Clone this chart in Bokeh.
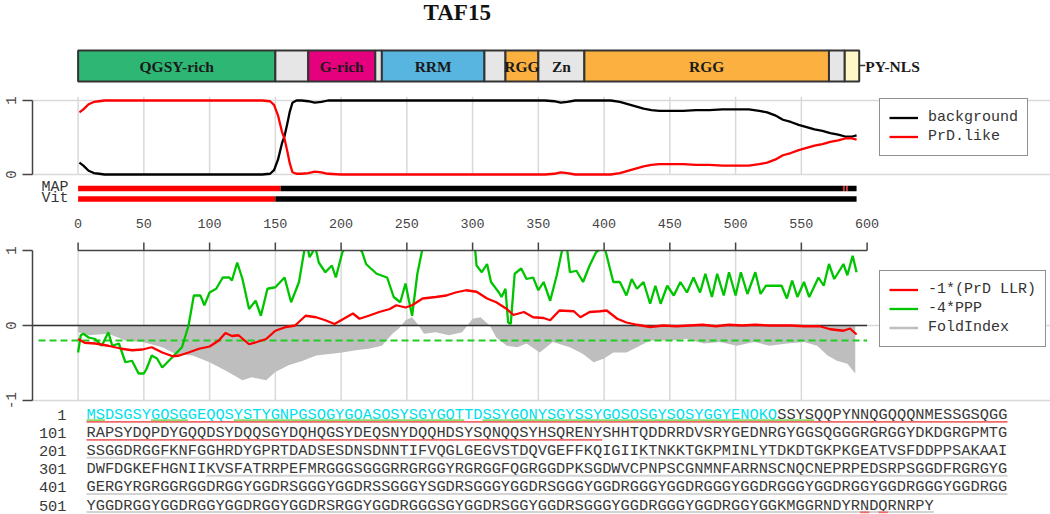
import math
from bokeh.plotting import figure
from bokeh.models import Range1d, ColumnDataSource, Legend, LegendItem
from bokeh.core.properties import value
from bokeh.embed import file_html
from bokeh.resources import INLINE

NaN = float("nan")

# ---------------- data ----------------
protein = "TAF15"
seq_len = 592

dom_label = ["QGSY-rich", "", "G-rich", "", "RRM", "", "RGG", "Zn", "RGG", "", "PY-NLS"]
dom_start = [0, 150, 175, 226, 231, 309, 325, 350, 385, 571, 583]
dom_end = [150, 175, 226, 231, 309, 325, 350, 385, 571, 583, 594]
dom_color = ["#2db674", "#e6e6e6", "#e5007d", "#e6e6e6", "#57b5e0", "#e6e6e6",
             "#fbb040", "#e6e6e6", "#fbb040", "#e6e6e6", "#fff8c6"]

tick_vals = [0, 50, 100, 150, 200, 250, 300, 350, 400, 450, 500, 550, 600]
grid_vals = [0, 50, 100, 150, 200, 250, 300, 350, 400, 450, 500, 550]

top_pos = [1, 4, 8, 12, 16, 20, 40, 60, 80, 100, 120, 140, 146, 149, 152, 155, 157, 159,
           161, 163, 166, 170, 175, 180, 185, 190, 200, 220, 240, 260, 280, 300, 320, 340,
           355, 362, 367, 372, 378, 385, 395, 405, 412, 418, 424, 430, 436, 442, 450, 460,
           470, 480, 490, 500, 510, 518, 524, 530, 536, 542, 548, 554, 560, 566, 572, 578,
           584, 588, 592]
background = [0.16, 0.12, 0.05, 0.02, 0.01, 0.0, 0.0, 0.0, 0.0, 0.0, 0.0, 0.0, 0.01, 0.06,
              0.2, 0.42, 0.52, 0.68, 0.85, 0.97, 1.0, 1.0, 0.99, 0.97, 0.98, 1.0, 1.0, 1.0,
              1.0, 1.0, 1.0, 1.0, 1.0, 1.0, 1.0, 0.99, 0.97, 0.98, 1.0, 1.0, 1.0, 1.0, 0.98,
              0.95, 0.92, 0.89, 0.87, 0.86, 0.86, 0.86, 0.87, 0.87, 0.88, 0.88, 0.88, 0.86,
              0.84, 0.8, 0.74, 0.71, 0.67, 0.64, 0.61, 0.59, 0.56, 0.54, 0.51, 0.51, 0.53]
prd_like = [0.84, 0.88, 0.95, 0.98, 0.99, 1.0, 1.0, 1.0, 1.0, 1.0, 1.0, 1.0, 0.99, 0.94,
            0.8, 0.58, 0.48, 0.32, 0.15, 0.03, 0.01, 0.01, 0.02, 0.04, 0.03, 0.01, 0.0, 0.0,
            0.0, 0.0, 0.0, 0.0, 0.0, 0.0, 0.0, 0.01, 0.03, 0.02, 0.0, 0.0, 0.0, 0.0, 0.02,
            0.05, 0.08, 0.11, 0.13, 0.14, 0.14, 0.14, 0.13, 0.13, 0.12, 0.12, 0.12, 0.14,
            0.16, 0.2, 0.26, 0.29, 0.33, 0.36, 0.39, 0.41, 0.44, 0.46, 0.49, 0.49, 0.47]

map_start = [0, 154, 581.8, 582.8, 584.3, 585.3]
map_end = [154, 581.8, 582.8, 584.3, 585.3, 592]
map_state = ["PrD", "bg", "PrD", "bg", "PrD", "bg"]
vit_start = [0, 150]
vit_end = [150, 592]
vit_state = ["PrD", "bg"]

llr_pos = [0, 5, 13, 23, 33, 41, 49, 56, 64, 72, 77, 84, 92, 100, 107, 112, 117, 122, 130,
           136, 143, 150, 158, 165, 173, 181, 188, 195, 201, 209, 214, 221, 229, 237, 242,
           249, 254, 262, 272, 280, 287, 295, 303, 311, 318, 326, 331, 339, 346, 354, 359,
           366, 377, 382, 389, 397, 402, 410, 417, 425, 435, 445, 455, 465, 475, 485, 495,
           505, 515, 525, 535, 542, 552, 564, 572, 582, 587, 592]
llr_neg = [-0.18, -0.23, -0.24, -0.27, -0.31, -0.33, -0.32, -0.29, -0.36, -0.41, -0.40,
           -0.36, -0.31, -0.28, -0.20, -0.10, -0.14, -0.13, -0.25, -0.22, -0.18, -0.07,
           -0.02, 0.0, 0.13, 0.11, 0.07, 0.02, 0.08, 0.16, 0.09, 0.13, 0.18, 0.22, 0.27,
           0.24, 0.27, 0.36, 0.38, 0.40, 0.44, 0.47, 0.45, 0.36, 0.31, 0.22, 0.14, 0.18,
           0.11, 0.10, 0.07, 0.20, 0.19, 0.11, 0.18, 0.19, 0.20, 0.09, 0.04, 0.01, -0.02,
           0.0, -0.01, 0.0, 0.01, -0.01, 0.01, 0.0, 0.01, 0.0, 0.0, 0.0, -0.01, -0.01,
           -0.05, -0.07, -0.04, -0.12]

ppp_pos = [0, 2, 4, 8, 13, 18, 23, 26, 31, 36, 41, 46, 50, 52, 56, 60, 64, 69, 74, 79, 84,
           88, 93, 96, 100, 105, 110, 115, 117, 121, 125, 130, 135, 139, 144, 150, 157, 162,
           168, 172, 173.5, 175, 176, 179, 180, 181, 183, 188, 193, 196, 201, 202, 208, 215,
           216, 219, 222, 227, 235, 240, 245, 249, 251.6, 254, 258, 261.6, 280, 302, 303,
           307, 311, 314, 320, 322, 325, 327, 329, 332, 337, 341, 346, 350, 354, 359, 364,
           368, 370, 372, 374, 379, 384, 389, 394, 396, 398, 401, 402, 407, 412, 417, 421,
           425, 430, 435, 439, 443, 448, 453, 458, 463, 468, 473, 477, 482, 486, 491, 495,
           500, 504, 509, 515, 519, 523, 535, 539, 543, 547, 552, 556, 559, 563, 567, 571,
           575, 580, 582, 585, 589, 592]
ppp_neg4 = [-0.36, -0.13, -0.11, -0.16, -0.18, -0.27, -0.09, -0.27, -0.24, -0.49, -0.47,
            -0.64, -0.64, -0.58, -0.40, -0.44, -0.56, -0.47, -0.38, -0.29, 0.0, 0.40, 0.40,
            0.27, 0.44, 0.49, 0.64, 0.64, 0.60, 0.84, 0.62, 0.22, 0.33, 0.13, 0.49, 0.51,
            0.64, 0.31, 0.58, 1.0, NaN, 1.0, 0.91, 1.0, NaN, 1.0, 0.84, 0.71, 0.80, 0.64,
            0.98, 1.0, NaN, 1.0, 0.98, 0.82, 0.77, 0.69, 0.64, 0.38, 0.31, 0.56, 0.33, 0.13,
            0.69, 1.0, NaN, 1.0, 0.80, 0.71, 0.82, 0.58, 0.44, 0.38, 0.49, 0.04, 0.02, 0.69,
            0.76, 0.62, 0.64, 0.47, 0.58, 0.33, 0.67, 1.0, NaN, 1.0, 0.71, 0.73, 0.58, 0.80,
            0.98, 1.0, NaN, 1.0, 0.93, 0.58, 0.58, 0.40, 0.62, 0.49, 0.58, 0.29, 0.53, 0.29,
            0.53, 0.40, 0.58, 0.44, 0.64, 0.44, 0.69, 0.38, 0.69, 0.40, 0.71, 0.40, 0.71,
            0.42, 0.71, 0.42, 0.53, 0.53, 0.36, 0.60, 0.38, 0.58, 0.38, 0.49, 0.64, 0.53,
            0.82, 0.62, 0.76, 0.82, 0.67, 0.93, 0.71]

fold_pos = [0, 8, 23, 36, 49, 64, 74, 87, 100, 112, 125, 132, 143, 150, 160, 171, 181, 191,
            201, 211, 221, 231, 239, 244, 249, 254, 259, 263, 272, 282, 292, 300, 306, 313,
            318, 326, 334, 341, 351, 361, 374, 384, 392, 400, 407, 417, 425, 435, 450, 463,
            476, 488, 501, 514, 526, 539, 552, 562, 570, 577, 585, 591]
fold_index = [-0.09, -0.13, -0.11, -0.20, -0.22, -0.29, -0.38, -0.40, -0.49, -0.60, -0.73,
              -0.69, -0.73, -0.62, -0.53, -0.47, -0.40, -0.38, -0.36, -0.33, -0.31, -0.27,
              -0.11, -0.04, 0.07, 0.11, 0.0, -0.11, -0.09, -0.13, -0.09, 0.09, 0.11, 0.0,
              -0.16, -0.27, -0.29, -0.24, -0.36, -0.22, -0.29, -0.38, -0.49, -0.44, -0.36,
              -0.36, -0.29, -0.20, -0.20, -0.18, -0.24, -0.22, -0.27, -0.22, -0.27, -0.24,
              -0.22, -0.27, -0.40, -0.47, -0.51, -0.64]
ppp_threshold = -0.2

seq_rows = [
    "MSDSGSYGQSGGEQQSYSTYGNPGSQGYGQASQSYSGYGQTTDSSYGQNYSGYSSYGQSQSGYSQSYGGYENQKQSSYSQQPYNNQGQQQNMESSGSQGG",
    "RAPSYDQPDYGQQDSYDQQSGYDQHQGSYDEQSNYDQQHDSYSQNQQSYHSQRENYSHHTQDDRRDVSRYGEDNRGYGGSQGGGRGRGGYDKDGRGPMTG",
    "SSGGDRGGFKNFGGHRDYGPRTDADSESDNSDNNTIFVQGLGEGVSTDQVGEFFKQIGIIKTNKKTGKPMINLYTDKDTGKPKGEATVSFDDPPSAKAAI",
    "DWFDGKEFHGNIIKVSFATRRPEFMRGGGSGGGRRGRGGYRGRGGFQGRGGDPKSGDWVCPNPSCGNMNFARRNSCNQCNEPRPEDSRPSGGDFRGRGYG",
    "GERGYRGRGGRGGDRGGYGGDRSGGGYGGDRSSGGGYSGDRSGGGYGGDRSGGGYGGDRGGGYGGDRGGGYGGDRGGGYGGDRGGYGGDRGGGYGGDRGG",
    "YGGDRGGYGGDRGGYGGDRGGYGGDRSRGGYGGDRGGGSGYGGDRSGGYGGDRSGGGYGGDRGGGYGGDRGGYGGKMGGRNDYRNDQRNRPY",
]
row_start = [1, 101, 201, 301, 401, 501]
core_region = [(1, 75)]
prd_underline = [(1, 156), (585, 585), (587, 587)]
core_underline = [(1, 2), (8, 11), (17, 41), (44, 79)]
disorder_underline = [(201, 248), (261, 297), (314, 400), (401, 500), (501, 592)]

# ---------------- layout constants ----------------
W, H = 1050, 514
X0, XS = 77.6, 1.315
TOP1, TOP0 = 100.0, 174.0
LOW0, LOWU = 325.0, 75.0
SEQ_X, CW, FS_SEQ = 86.0, 9.21, "15.35px"
ROW_Y0, ROW_DY = 414.5, 18.1
MONO = value("Liberation Mono")
SERIF = value("Liberation Serif")

p = figure(width=W, height=H, output_backend="svg", toolbar_location=None,
           x_range=Range1d(-X0 / XS, (W - X0) / XS), y_range=Range1d(H, 0),
           x_axis_location=None, y_axis_location=None, min_border=0,
           outline_line_color=None, background_fill_color="white")
p.grid.visible = False
p.extra_x_ranges = {"px": Range1d(0, W)}
ts = TOP0 - TOP1
p.extra_y_ranges = {"top": Range1d((TOP0 - H) / ts, TOP0 / ts),
                    "low": Range1d((LOW0 - H) / LOWU, LOW0 / LOWU)}

GRID = "#d9d9d9"
AX = "#444444"

# ---- title
p.text(x=[W * 0.435], y=[12], text=[protein], x_range_name="px", text_font=SERIF,
       text_font_style="bold", text_font_size="23px", text_align="center",
       text_baseline="middle", text_color="#111111")

# ---- domain bar
p.quad(left=dom_start, right=dom_end, top=[50] * len(dom_start), bottom=[81] * len(dom_start),
       fill_color=dom_color, line_color="#333333", line_width=2)
in_lab = [(s + e) / 2 for s, e, l in zip(dom_start, dom_end, dom_label) if l and l != "PY-NLS"]
in_txt = [l for l in dom_label if l and l != "PY-NLS"]
p.text(x=in_lab, y=[65.5] * len(in_lab), text=in_txt, text_font=SERIF, text_font_style="bold",
       text_font_size="15.5px", text_align="center", text_baseline="middle",
       text_color="#1a1a1a")
nls_i = dom_label.index("PY-NLS")
p.segment(x0=[dom_end[nls_i]], x1=[dom_end[nls_i] + 6 / XS], y0=[65], y1=[65],
          line_color="#333333", line_width=1.5)
p.text(x=[dom_end[nls_i] + 6 / XS], y=[65.5], text=["PY-NLS"], text_font=SERIF,
       text_font_style="bold", text_font_size="15.5px", text_align="left",
       text_baseline="middle", text_color="#1a1a1a")

# ---- top panel grid & axis
p.segment(x0=grid_vals, x1=grid_vals, y0=[0] * len(grid_vals), y1=[1.05] * len(grid_vals),
          y_range_name="top", line_color=GRID, line_width=1.5)
p.segment(x0=[32, 32], x1=[W, W], y0=[0, 1], y1=[0, 1], x_range_name="px",
          y_range_name="top", line_color=GRID, line_width=1.5)
p.segment(x0=[32], x1=[32], y0=[0], y1=[1], x_range_name="px", y_range_name="top",
          line_color=AX, line_width=1.5)
p.segment(x0=[22, 22], x1=[32, 32], y0=[0, 1], y1=[0, 1], x_range_name="px",
          y_range_name="top", line_color=AX, line_width=1.5)
p.text(x=[10, 10], y=[0, 1], text=["0", "1"], x_range_name="px", y_range_name="top",
       angle=math.pi / 2, text_font=MONO, text_font_size="14px", text_align="center",
       text_baseline="middle", text_color=AX)

r_bg = p.line(top_pos, background, y_range_name="top", line_color="black", line_width=2.3)
r_prd = p.line(top_pos, prd_like, y_range_name="top", line_color="#ff0000", line_width=2.3)

# ---- MAP / Vit state bars
state_col = {"PrD": "#ff0000", "bg": "#000000"}
p.segment(x0=map_start, x1=map_end, y0=[188] * len(map_start), y1=[188] * len(map_start),
          line_color=[state_col[s] for s in map_state], line_width=5.5)
p.segment(x0=vit_start, x1=vit_end, y0=[198.5] * len(vit_start), y1=[198.5] * len(vit_start),
          line_color=[state_col[s] for s in vit_state], line_width=5.5)
p.text(x=[68, 68], y=[186.5, 197.5], text=["MAP", "Vit"], x_range_name="px",
       text_font=MONO, text_font_size="15px", text_align="right", text_baseline="middle",
       text_color="#333333")

# ---- position axis
p.text(x=tick_vals, y=[223] * len(tick_vals), text=[str(t) for t in tick_vals],
       text_font=MONO, text_font_size="13.4px", text_align="center", text_baseline="middle",
       text_color=AX)

# ---- lower panel grid
p.segment(x0=grid_vals, x1=grid_vals, y0=[-1] * len(grid_vals), y1=[1] * len(grid_vals),
          y_range_name="low", line_color=GRID, line_width=1.5)
p.segment(x0=[32, 32], x1=[W, W], y0=[-1, 0], y1=[-1, 0], x_range_name="px",
          y_range_name="low", line_color=GRID, line_width=1.5)

# FoldIndex area
r_fold = p.varea(x=fold_pos, y1=[0] * len(fold_pos), y2=fold_index, y_range_name="low",
                 fill_color="#bebebe")

# zero line & threshold
x_left = (32 - X0) / XS
p.segment(x0=[x_left], x1=[600], y0=[0], y1=[0], y_range_name="low", line_color="#333333",
          line_width=1.5)
p.segment(x0=[(38 - X0) / XS], x1=[600], y0=[ppp_threshold], y1=[ppp_threshold],
          y_range_name="low", line_color="#22cc22", line_width=2, line_dash="7 4")

r_ppp = p.line(ppp_pos, ppp_neg4, y_range_name="low", line_color="#00c400", line_width=2.3)
r_llr = p.line(llr_pos, llr_neg, y_range_name="low", line_color="#ff0000", line_width=2.3)
r_fold_leg = p.line([NaN], [NaN], y_range_name="low", line_color="#bebebe", line_width=2.5)

# lower-panel axes
p.segment(x0=[0], x1=[600], y0=[1], y1=[1], y_range_name="low", line_color=AX, line_width=1.5)
p.segment(x0=tick_vals, x1=tick_vals, y0=[1] * len(tick_vals),
          y1=[1 + 8 / LOWU] * len(tick_vals), y_range_name="low", line_color=AX, line_width=1.5)
p.segment(x0=[32], x1=[32], y0=[-1], y1=[1], x_range_name="px", y_range_name="low",
          line_color=AX, line_width=1.5)
p.segment(x0=[22, 22, 22], x1=[32, 32, 32], y0=[-1, 0, 1], y1=[-1, 0, 1], x_range_name="px",
          y_range_name="low", line_color=AX, line_width=1.5)
p.text(x=[10, 10, 10], y=[-1, 0, 1], text=["-1", "0", "1"], x_range_name="px",
       y_range_name="low", angle=math.pi / 2, text_font=MONO, text_font_size="14px",
       text_align="center", text_baseline="middle", text_color=AX)

# ---- legends
leg_kw = dict(border_line_color="#222222", border_line_width=1.5, background_fill_alpha=1,
              label_text_font="Liberation Mono", label_text_font_size="15px",
              label_text_color="#333333", glyph_width=29, glyph_height=19, label_height=19,
              label_standoff=10, padding=9, spacing=0, margin=0)
leg_top = Legend(items=[LegendItem(label="background", renderers=[r_bg]),
                        LegendItem(label="PrD.like", renderers=[r_prd])],
                 location=(879, H - 156), **leg_kw)
leg_low = Legend(items=[LegendItem(label="-1*(PrD LLR)", renderers=[r_llr]),
                        LegendItem(label="-4*PPP", renderers=[r_ppp]),
                        LegendItem(label="FoldIndex", renderers=[r_fold_leg])],
                 location=(879, H - 347), **leg_kw)
p.add_layout(leg_top, "center")
p.add_layout(leg_low, "center")

# ---- sequence block
def in_any(res, ranges):
    return any(a <= res <= b for a, b in ranges)

tx, ty, tt, tc = [], [], [], []
for k, (s0, row) in enumerate(zip(row_start, seq_rows)):
    y = ROW_Y0 + k * ROW_DY
    i = 0
    while i < len(row):
        cyan = in_any(s0 + i, core_region)
        j = i
        while j < len(row) and in_any(s0 + j, core_region) == cyan:
            j += 1
        tx.append(SEQ_X + i * CW); ty.append(y); tt.append(row[i:j])
        tc.append("#00dfee" if cyan else "#3a3a3a")
        i = j
p.text(x=tx, y=ty, text=tt, text_color=tc, x_range_name="px", text_font=MONO,
       text_font_size=FS_SEQ, text_align="left", text_baseline="middle")
p.text(x=[66] * len(row_start), y=[ROW_Y0 + k * ROW_DY for k in range(len(row_start))],
       text=[str(s) for s in row_start], x_range_name="px", text_font=MONO,
       text_font_size=FS_SEQ, text_align="right", text_baseline="middle",
       text_color="#3a3a3a")

def underline(ranges, dy, color, width):
    x0, x1, ys = [], [], []
    for a, b in ranges:
        for k, s0 in enumerate(row_start):
            e0 = s0 + len(seq_rows[k]) - 1
            lo, hi = max(a, s0), min(b, e0)
            if lo <= hi:
                x0.append(SEQ_X + (lo - s0) * CW)
                x1.append(SEQ_X + (hi - s0 + 1) * CW)
                ys.append(ROW_Y0 + k * ROW_DY + dy)
    p.segment(x0=x0, x1=x1, y0=ys, y1=ys, x_range_name="px", line_color=color,
              line_width=width)

underline(disorder_underline, 6.5, "#d4d4d4", 2)
underline(prd_underline, 6.8, "#f06a6a", 1.8)
underline(core_underline, 5.2, "#8edb6c", 1.8)

open("out.html", "w").write(file_html(p, INLINE))
